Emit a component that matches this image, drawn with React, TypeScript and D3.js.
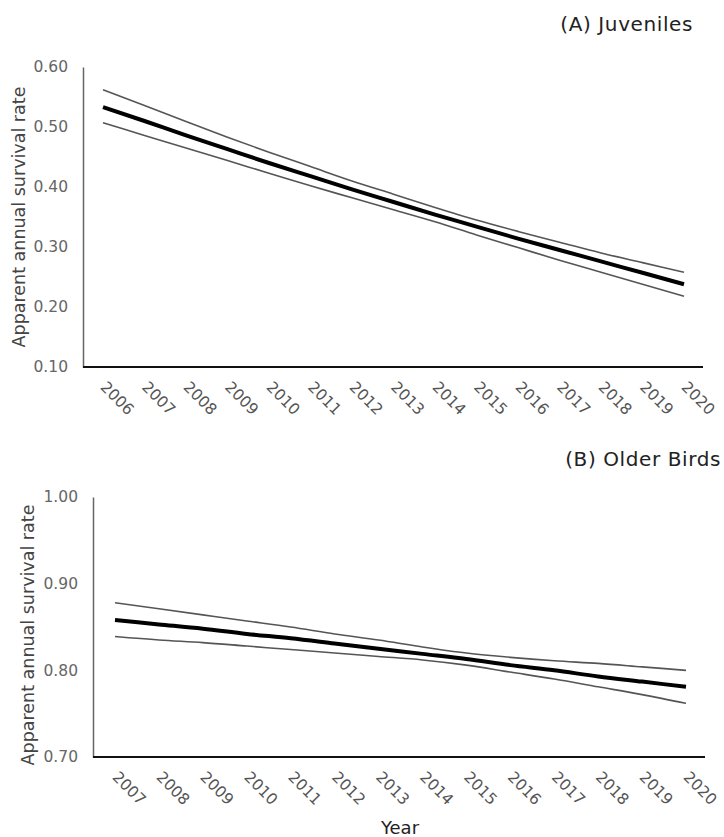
import { useEffect, useRef } from "react"
import * as d3 from "d3"

// Panel A: juveniles, 2006-2020
const juvYears = [2006, 2007, 2008, 2009, 2010, 2011, 2012, 2013, 2014, 2015, 2016, 2017, 2018, 2019, 2020]
const juvMean = [0.533, 0.51, 0.486, 0.463, 0.44, 0.418, 0.396, 0.375, 0.354, 0.334, 0.314, 0.295, 0.276, 0.257, 0.238]
const juvUpper = [0.562, 0.536, 0.509, 0.483, 0.458, 0.434, 0.41, 0.388, 0.366, 0.345, 0.326, 0.308, 0.29, 0.274, 0.258]
const juvLower = [0.507, 0.486, 0.465, 0.444, 0.423, 0.402, 0.382, 0.362, 0.342, 0.32, 0.299, 0.278, 0.258, 0.238, 0.218]
const juvTicks = [0.1, 0.2, 0.3, 0.4, 0.5, 0.6]

// Panel B: older birds, 2007-2020
const oldYears = [2007, 2008, 2009, 2010, 2011, 2012, 2013, 2014, 2015, 2016, 2017, 2018, 2019, 2020]
const oldMean = [0.858, 0.853, 0.848, 0.842, 0.837, 0.831, 0.825, 0.819, 0.813, 0.806, 0.8, 0.793, 0.787, 0.781]
const oldUpper = [0.878, 0.871, 0.864, 0.857, 0.85, 0.842, 0.835, 0.827, 0.82, 0.815, 0.811, 0.808, 0.804, 0.8]
const oldLower = [0.839, 0.835, 0.832, 0.828, 0.824, 0.82, 0.816, 0.812, 0.806, 0.798, 0.79, 0.781, 0.772, 0.762]
const oldTicks = [0.7, 0.8, 0.9, 1.0]

const FONT = "'DejaVu Sans', sans-serif"

interface Panel {
  title: string
  titleX: number
  titleY: number
  years: number[]
  mean: number[]
  upper: number[]
  lower: number[]
  ticks: number[]
  domain: [number, number]
  left: number
  right: number
  top: number
  bottom: number
  pad: number
  labelX: number
  labelY: number
}

const panels: Panel[] = [
  {
    title: "(A) Juveniles", titleX: 693, titleY: 31,
    years: juvYears, mean: juvMean, upper: juvUpper, lower: juvLower,
    ticks: juvTicks, domain: [0.1, 0.6],
    left: 83, right: 703, top: 67, bottom: 367, pad: 20, labelX: 25, labelY: 217,
  },
  {
    title: "(B) Older Birds", titleX: 721, titleY: 466,
    years: oldYears, mean: oldMean, upper: oldUpper, lower: oldLower,
    ticks: oldTicks, domain: [0.7, 1.0],
    left: 93, right: 705, top: 497, bottom: 757, pad: 22, labelX: 34, labelY: 635,
  },
]

export default function App() {
  const svgRef = useRef<SVGSVGElement>(null)

  useEffect(() => {
    if (!svgRef.current) return
    const svg = d3.select(svgRef.current)
    svg.selectAll("*").remove()

    panels.forEach((p) => {
      const g = svg.append("g")
      const x = d3
        .scaleLinear()
        .domain([p.years[0], p.years[p.years.length - 1]])
        .range([p.left + p.pad, p.right - 19])
      const y = d3.scaleLinear().domain(p.domain).range([p.bottom, p.top])

      // Title
      g.append("text")
        .attr("x", p.titleX)
        .attr("y", p.titleY)
        .attr("text-anchor", "end")
        .attr("font-size", 20)
        .attr("letter-spacing", 0.6)
        .attr("fill", "#222")
        .text(p.title)

      // Y axis
      const yAxis = g
        .append("g")
        .attr("transform", `translate(${p.left},0)`)
        .call(d3.axisLeft(y).tickValues(p.ticks).tickFormat(d3.format(".2f")).tickSize(0).tickPadding(15))
      yAxis.select(".domain").attr("stroke", "#666").attr("stroke-width", 1.5)
      yAxis.selectAll("text").attr("font-family", FONT).attr("font-size", 15.5).attr("fill", "#666")

      // X axis
      const xAxis = g
        .append("g")
        .attr("transform", `translate(0,${p.bottom})`)
        .call(d3.axisBottom(x).tickValues(p.years).tickFormat(d3.format("d")).tickSize(0))
      xAxis.select(".domain").remove()
      xAxis
        .selectAll("text")
        .attr("font-family", FONT)
        .attr("font-size", 15.5)
        .attr("fill", "#555")
        .attr("text-anchor", "start")
        .attr("dy", null)
        .attr("y", 0)
        .attr("transform", "translate(-4,21) rotate(45)")
      g.append("line")
        .attr("x1", p.left)
        .attr("x2", p.right)
        .attr("y1", p.bottom)
        .attr("y2", p.bottom)
        .attr("stroke", "#111")
        .attr("stroke-width", 2)

      // Y label
      g.append("text")
        .attr("transform", `translate(${p.labelX},${p.labelY}) rotate(-90)`)
        .attr("text-anchor", "middle")
        .attr("font-size", 17.5)
        .attr("fill", "#444")
        .text("Apparent annual survival rate")

      // Lines
      const line = (vals: number[]) =>
        d3
          .line<number>()
          .x((_, i) => x(p.years[i]))
          .y((d) => y(d))
          .curve(d3.curveMonotoneX)(vals)

      g.append("path").attr("d", line(p.upper)).attr("fill", "none").attr("stroke", "#555").attr("stroke-width", 1.6)
      g.append("path").attr("d", line(p.lower)).attr("fill", "none").attr("stroke", "#555").attr("stroke-width", 1.6)
      g.append("path").attr("d", line(p.mean)).attr("fill", "none").attr("stroke", "#000").attr("stroke-width", 4)
    })

    // X label
    svg
      .append("text")
      .attr("x", 400)
      .attr("y", 834)
      .attr("text-anchor", "middle")
      .attr("font-size", 18)
      .attr("fill", "#222")
      .text("Year")
  }, [])

  return (
    <svg
      ref={svgRef}
      width={724}
      height={837}
      style={{ position: "absolute", left: 0, top: 0, background: "#fff", fontFamily: FONT }}
    />
  )
}
